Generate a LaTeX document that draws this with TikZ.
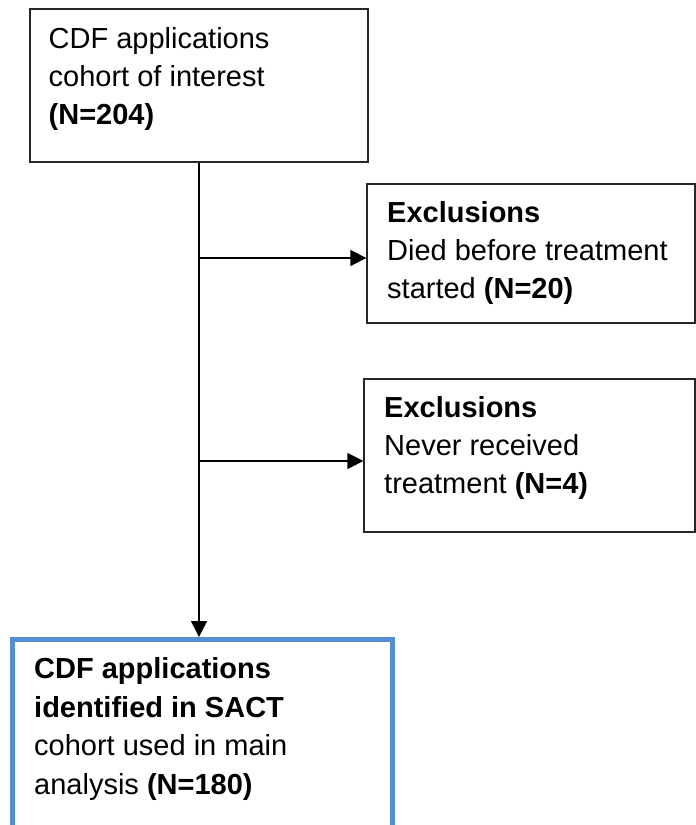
\documentclass[tikz,border=0pt]{standalone}
\usepackage{fontspec}
\setmainfont{Liberation Sans}
\usetikzlibrary{arrows.meta}
\definecolor{boxblue}{RGB}{84,141,212}
\begin{document}
\begin{tikzpicture}[x=1pt,y=-1pt,
  box/.style={draw=black!85, line width=1.3pt, rectangle, inner sep=0pt},
  finalbox/.style={draw=boxblue, line width=5pt, rectangle, inner sep=0pt},
  conn/.style={draw=black, line width=1.5pt, -{Triangle[length=16pt,width=16pt]}},
  txt/.style={anchor=base west, inner sep=0pt, font=\fontsize{29}{35}\selectfont}
]
\useasboundingbox (0,0) rectangle (696,825);
% boxes
\node[box, minimum width=338pt, minimum height=153pt] (top) at (199,85.5) {};
\node[box, minimum width=328pt, minimum height=139pt] (ex1) at (531,253.5) {};
\node[box, minimum width=331pt, minimum height=153pt] (ex2) at (529.5,455.5) {};
\node[finalbox, minimum width=380pt, minimum height=210pt] (fin) at (202,744.5) {};
% texts
\node[txt] (t1) at (48.5,48) {CDF applications};
\node[txt] (t2) at (48.5,86) {cohort of interest};
\node[txt] (t3) at (48.5,124) {\bfseries (N=204)};
\node[txt] (e1a) at (387,222) {\bfseries Exclusions};
\node[txt] (e1b) at (387,260) {Died before treatment};
\node[txt] (e1c) at (387,298) {started \textbf{(N=20)}};
\node[txt] (e2a) at (384,417) {\bfseries Exclusions};
\node[txt] (e2b) at (384,455) {Never received};
\node[txt] (e2c) at (384,493) {treatment \textbf{(N=4)}};
\node[txt] (f1) at (34,678) {\bfseries CDF applications};
\node[txt] (f2) at (34,717) {\bfseries identified in SACT};
\node[txt] (f3) at (34,755.5) {cohort used in main};
\node[txt] (f4) at (34,794.5) {analysis \textbf{(N=180)}};
% connectors
\coordinate (j1) at (199,258);
\coordinate (j2) at (199,461);
\draw[conn] (top.south) -- (top.south |- fin.north);
\draw[conn] (j1) -- (j1 -| ex1.west);
\draw[conn] (j2) -- (j2 -| ex2.west);
\end{tikzpicture}
\end{document}
